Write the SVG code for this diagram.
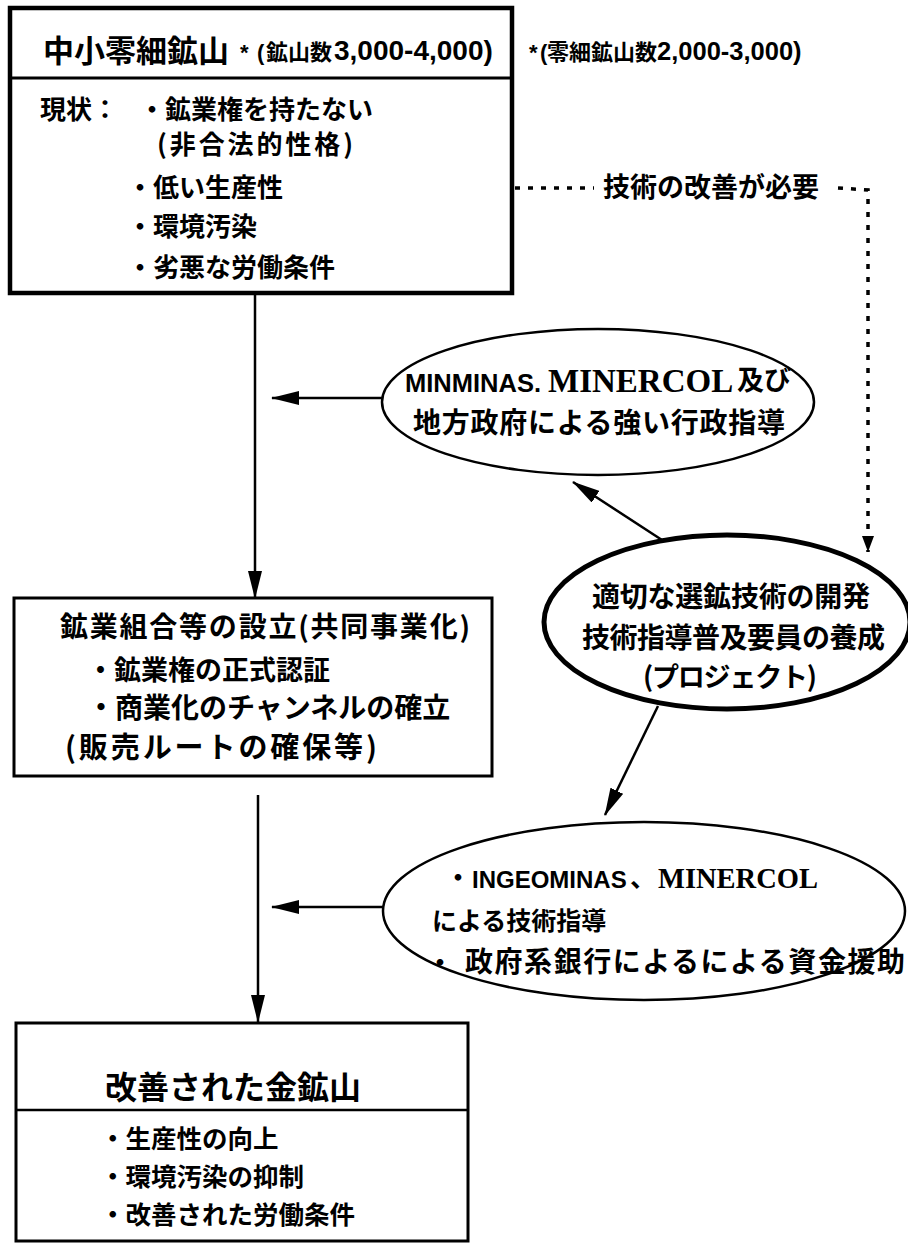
<svg xmlns="http://www.w3.org/2000/svg" width="908" height="1245" viewBox="0 0 908 1245">
<style>
.jp{font-family:"Noto Sans CJK JP","Noto Sans CJK SC",sans-serif;font-weight:bold;fill:#000}
.lat{font-family:"Liberation Sans",sans-serif;font-weight:bold;fill:#000}
.ser{font-family:"Liberation Serif",serif;font-weight:bold;fill:#000}
.box{fill:#fff;stroke:#000}
.ln{stroke:#000;fill:none;stroke-width:2.5}
.dot{stroke:#000;fill:none;stroke-width:3.5;stroke-dasharray:5 8}
</style>
<defs>
<marker id="ah" markerUnits="userSpaceOnUse" markerWidth="28" markerHeight="14" refX="27" refY="7" orient="auto"><path d="M0,0 L28,7 L0,14 Z" fill="#000"/></marker>
<marker id="ahs" markerUnits="userSpaceOnUse" markerWidth="16" markerHeight="12" refX="16" refY="6" orient="auto"><path d="M0,0 L16,6 L0,12 Z" fill="#000"/></marker>
</defs>
<rect width="908" height="1245" fill="#fff"/>

<g id="connectors">
<line class="ln" x1="255" y1="293" x2="255" y2="598" marker-end="url(#ah)"/>
<line class="ln" x1="258" y1="795" x2="258" y2="1022" marker-end="url(#ah)"/>
<line class="ln" x1="382" y1="398" x2="272" y2="398" marker-end="url(#ah)"/>
<line class="ln" x1="385" y1="907" x2="272" y2="907" marker-end="url(#ah)"/>
<line class="ln" x1="662" y1="540" x2="573" y2="482" stroke-width="3" marker-end="url(#ah)"/>
<line class="ln" x1="658" y1="706" x2="605" y2="815" stroke-width="3" marker-end="url(#ah)"/>
<path class="dot" d="M515,188 H594"/>
<path class="dot" d="M838,188 L868,190 V552" marker-end="url(#ahs)"/>
<text class="jp" x="603" y="197" font-size="27">技術の改善が必要</text>
</g>

<g id="node-top">
<rect class="box" x="10" y="8" width="502" height="285" stroke-width="4.5"/>
<line x1="10" y1="78" x2="512" y2="78" stroke="#000" stroke-width="3"/>
<text class="jp" x="43" y="62" font-size="31">中小零細鉱山</text>
<text y="60"><tspan class="lat" x="240" font-size="22">*</tspan><tspan class="lat" x="257" font-size="22">(</tspan><tspan class="jp" x="266" font-size="22">鉱山数</tspan><tspan class="lat" x="334" font-size="28">3,000-4,000)</tspan></text>
<text class="jp" x="40" y="119" font-size="26">現状：</text>
<text class="jp" x="139" y="119" font-size="26">・鉱業権を持たない</text>
<text class="jp" x="157" y="154" font-size="26" textLength="196">(非合法的性格)</text>
<text class="jp" x="127" y="197" font-size="26">・低い生産性</text>
<text class="jp" x="127" y="236" font-size="26">・環境汚染</text>
<text class="jp" x="127" y="277" font-size="26">・劣悪な労働条件</text>
</g>

<g id="note-right">
<text y="60"><tspan class="lat" x="529" font-size="22">*</tspan><tspan class="lat" x="540" font-size="22">(</tspan><tspan class="jp" x="547" font-size="22">零細鉱山数</tspan><tspan class="lat" x="657" font-size="25.5">2,000-3,000)</tspan></text>
</g>

<g id="node-admin">
<ellipse class="box" cx="598" cy="402" rx="216" ry="73" stroke-width="2.5"/>
<text y="392"><tspan class="lat" x="405" font-size="25.5">MINMINAS.</tspan><tspan class="ser" x="548" font-size="33">MINERCOL</tspan><tspan class="jp" x="737" font-size="27" dy="-2">及び</tspan></text>
<text class="jp" x="413" y="433" font-size="28" textLength="372">地方政府による強い行政指導</text>
</g>

<g id="node-project">
<ellipse class="box" cx="727" cy="622" rx="183" ry="87" stroke-width="5"/>
<text class="jp" x="592" y="607" font-size="28" textLength="278">適切な選鉱技術の開発</text>
<text class="jp" x="582" y="648" font-size="28" textLength="303">技術指導普及要員の養成</text>
<text class="jp" x="643" y="687" font-size="27" textLength="174">(プロジェクト)</text>
</g>

<g id="node-coop">
<rect class="box" x="14" y="598" width="478" height="178" stroke-width="3"/>
<text class="jp" x="60" y="637" font-size="28" font-weight="500" textLength="410">鉱業組合等の設立(共同事業化)</text>
<text class="jp" x="87" y="680" font-size="27">・鉱業権の正式認証</text>
<text class="jp" x="87" y="718" font-size="28">・商業化のチャンネルの確立</text>
<text class="jp" x="65" y="758" font-size="29" textLength="312">(販売ルートの確保等)</text>
</g>

<g id="node-support">
<ellipse class="box" cx="644" cy="911" rx="261" ry="89" stroke-width="2.5"/>
<text y="888"><tspan class="jp" x="445" font-size="26" dy="-1">・</tspan><tspan class="lat" x="472" font-size="24" dy="1">INGEOMINAS</tspan><tspan class="jp" x="630" font-size="26" dy="-1">、</tspan><tspan class="ser" x="658" font-size="28.5" dy="1">MINERCOL</tspan></text>
<text class="jp" x="432" y="930" font-size="25">による技術指導</text>
<text class="jp" x="427" y="972" font-size="26">・</text>
<text class="jp" x="465" y="972" font-size="28" textLength="440">政府系銀行によるによる資金援助</text>
</g>

<g id="node-result">
<rect class="box" x="16" y="1023" width="452" height="218" stroke-width="3"/>
<line x1="16" y1="1110" x2="468" y2="1110" stroke="#000" stroke-width="2.5"/>
<text class="jp" x="105" y="1099" font-size="32">改善された金鉱山</text>
<text class="jp" x="100" y="1148" font-size="25.5">・生産性の向上</text>
<text class="jp" x="100" y="1186" font-size="25.5">・環境汚染の抑制</text>
<text class="jp" x="100" y="1224" font-size="25.5">・改善された労働条件</text>
</g>
</svg>
